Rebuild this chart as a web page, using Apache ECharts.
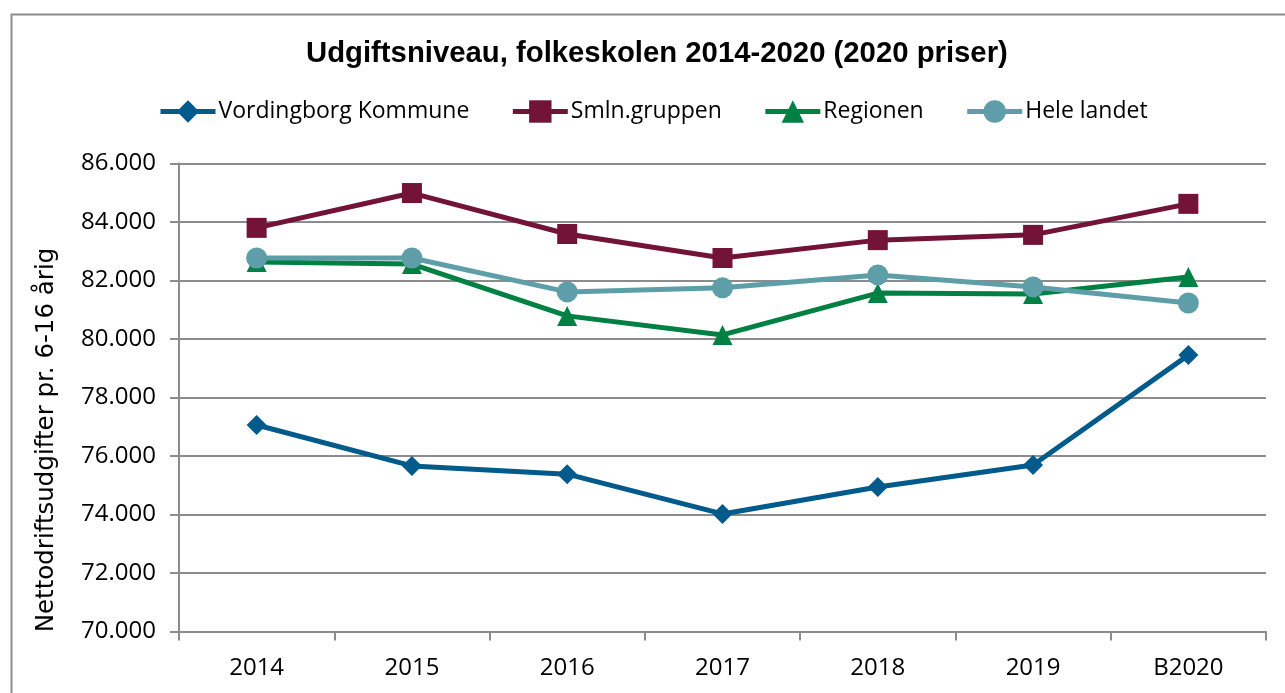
<!DOCTYPE html>
<html>
<head>
<meta charset="utf-8">
<script src="https://cdn.jsdelivr.net/npm/echarts@6/dist/echarts.min.js"></script>
<style>
html,body{margin:0;padding:0;background:#fff;}
#chart{width:1285px;height:693px;}
</style>
</head>
<body>
<div id="chart"></div>
<script>
const categories = ['2014','2015','2016','2017','2018','2019','B2020'];
const vordingborg = [77060, 75660, 75380, 74020, 74940, 75690, 79450];
const smln = [83800, 84990, 83590, 82770, 83380, 83560, 84620];
const regionen = [82630, 82560, 80790, 80140, 81570, 81540, 82120];
const heleLandet = [82770, 82770, 81610, 81750, 82190, 81780, 81230];
const seriesNames = ['Vordingborg Kommune','Smln.gruppen','Regionen','Hele landet'];
const titleText = 'Udgiftsniveau, folkeskolen 2014-2020 (2020 priser)';
const yAxisTitle = 'Nettodriftsudgifter pr. 6-16 årig';

const chart = echarts.init(document.getElementById('chart'), null, {renderer:'canvas'});
const font = '"Open Sans", sans-serif';
function mk(name, data, color, symbol, size){
  return {
    name, type:'line', data, color,
    symbol, symbolSize:size, showSymbol:true,
    lineStyle:{width:5, color},
    itemStyle:{color},
    z: 3
  };
}
chart.setOption({
  animation:false,
  backgroundColor:'#fff',
  title:{
    text:titleText, left:301, top:34,
    textStyle:{fontFamily:'"Liberation Sans", Arial, sans-serif', fontWeight:'bold', fontSize:29.3, color:'#000'}
  },
  legend:{
    left:153, top:95, itemWidth:55, itemHeight:28, itemGap:41,
    lineStyle:{width:5},
    textStyle:{fontFamily:font, fontSize:23, color:'#000', padding:[0,0,0,-2]},
    data:seriesNames
  },
  grid:{left:179, right:19, top:163.5, bottom:61.5, containLabel:false},
  xAxis:{
    type:'category', data:categories, boundaryGap:true,
    axisLine:{lineStyle:{color:'#8c8c8c', width:2}},
    axisTick:{show:true, length:9, lineStyle:{color:'#8c8c8c', width:2}},
    axisLabel:{fontFamily:font, fontSize:24, color:'#000', margin:25}
  },
  yAxis:{
    type:'value', min:70000, max:86000, interval:2000,
    axisLine:{show:true, lineStyle:{color:'#8c8c8c', width:2}},
    axisTick:{show:true, length:9, lineStyle:{color:'#8c8c8c', width:2}},
    splitLine:{lineStyle:{color:'#8c8c8c', width:2}},
    axisLabel:{fontFamily:font, fontSize:24, color:'#000', margin:23,
      formatter:v=>(v/1000).toFixed(3)}
  },
  graphic:[
    {type:'rect', left:9, top:12, shape:{width:1300, height:700},
      style:{fill:'none', stroke:'#8c8c8c', lineWidth:2}, silent:true, z:-1},
    {type:'text', x:47, y:440, rotation:Math.PI/2,
      style:{text:yAxisTitle, fontSize:24.5, fontFamily:'"DejaVu Sans", sans-serif', fill:'#000',
        align:'center', verticalAlign:'middle'}}
  ],
  series:[
    mk(seriesNames[0], vordingborg, '#005a8c', 'diamond', 20),
    mk(seriesNames[1], smln, '#731335', 'rect', 20),
    mk(seriesNames[2], regionen, '#008042', 'triangle', 20),
    mk(seriesNames[3], heleLandet, '#5e9ea8', 'circle', 21)
  ]
});
</script>
</body>
</html>
